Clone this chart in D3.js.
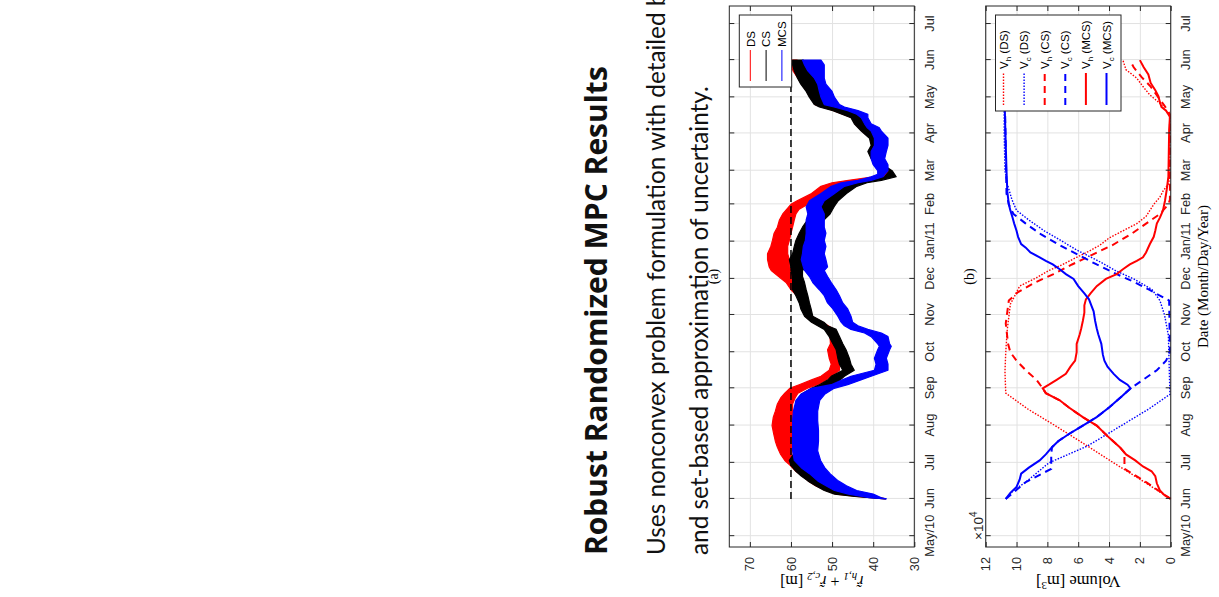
<!DOCTYPE html>
<html><head><meta charset="utf-8">
<script src="https://cdn.jsdelivr.net/npm/d3@7"></script>
<style>body{margin:0;background:#fff}svg{display:block}</style>
</head><body>
<script>
// ---------------- DATA ----------------
const titleText = "Robust Randomized MPC Results";
const subLine1 = "Uses nonconvex problem formulation with detailed bu";
const subLine2 = "and set-based approximation of uncertainty.";

const monthTicks = ["2010-05-01","2010-06-01","2010-07-01","2010-08-01","2010-09-01","2010-10-01","2010-11-01","2010-12-01","2011-01-01","2011-02-01","2011-03-01","2011-04-01","2011-05-01","2011-06-01","2011-07-01"];
const monthLabels = ["May/10","Jun","Jul","Aug","Sep","Oct","Nov","Dec","Jan/11","Feb","Mar","Apr","May","Jun","Jul"];
const yTicksA = [30,40,50,60,70];
const yTicksB = [0,2,4,6,8,10,12];
const refLevel = 60;
const refStart = "2010-06-01", refEnd = "2011-06-01";

// plot (a): band envelopes [m]
const dsDates = ["2010-06-01","2010-06-03","2010-06-05","2010-06-08","2010-06-12","2010-06-16","2010-06-20","2010-06-24","2010-06-29","2010-07-03","2010-07-08","2010-07-14","2010-07-19","2010-07-25","2010-08-01","2010-08-08","2010-08-13","2010-08-19","2010-08-24","2010-08-28","2010-09-01","2010-09-04","2010-09-08","2010-09-11","2010-09-16","2010-09-21","2010-09-26","2010-10-03","2010-10-08","2010-10-14","2010-10-20","2010-10-26","2010-10-31","2010-11-06","2010-11-11","2010-11-17","2010-11-22","2010-11-28","2010-12-03","2010-12-08","2010-12-11","2010-12-17","2010-12-22","2010-12-28","2011-01-02","2011-01-08","2011-01-13","2011-01-19","2011-01-24","2011-01-28","2011-02-01","2011-02-04","2011-02-10","2011-02-16","2011-02-19","2011-02-21","2011-02-24","2011-03-01","2011-03-06","2011-03-11","2011-03-17","2011-03-22","2011-03-28","2011-04-03","2011-04-09","2011-04-14","2011-04-20","2011-04-25","2011-05-01","2011-05-06","2011-05-12","2011-05-17","2011-05-23","2011-05-28","2011-06-01"];
const dsLo = [37,40,45,47.5,50,52.5,54.5,56,58,59.5,59.8,59.8,59.7,59.5,59.5,59.5,59.6,59.6,59,58.3,56,53.5,51.5,50.2,48.2,48.2,48.5,48.6,48.6,49,49.5,52.3,55,55.4,55.8,56.2,58.5,59.5,59.6,59.8,60.4,60.4,60.8,60.8,60.4,60,59.6,59.2,58.8,58,56,54,50.5,47.8,45.5,42,36.5,36,37.8,38.2,38,38.2,39.4,40.7,42.3,43.1,45.1,50.4,52.1,52.9,53.7,54.5,56.5,57.5,58.5];
const dsHi = [37,44,49,51.5,54,55.8,57.2,58.8,60.2,61.5,62.5,63.3,63.8,64.2,64.6,64.3,63.8,63.3,62.5,61.5,60.3,58,55,52.7,50.7,50.2,50.7,51.1,50.4,50.5,51.5,54.7,56.5,57.3,57.6,58.5,60,61.2,63,64.8,65.3,65.7,65.7,64.9,64.5,64.1,63.3,62.8,62,61,60,58.5,55,52.7,50,46,39.5,37,39,40.3,41,40.3,40.7,42.7,44.4,45.2,49.6,54.1,55.3,56.1,57.4,58.3,59.5,60,60];

const csDates = ["2010-06-01","2010-06-03","2010-06-05","2010-06-08","2010-06-12","2010-06-16","2010-06-20","2010-06-24","2010-06-29","2010-07-03","2010-07-08","2010-07-14","2010-07-25","2010-08-05","2010-08-13","2010-08-22","2010-08-27","2010-09-01","2010-09-04","2010-09-08","2010-09-11","2010-09-16","2010-09-21","2010-09-26","2010-10-03","2010-10-08","2010-10-14","2010-10-20","2010-10-23","2010-10-26","2010-10-31","2010-11-06","2010-11-11","2010-11-17","2010-11-22","2010-11-28","2010-12-03","2010-12-08","2010-12-11","2010-12-17","2010-12-22","2010-12-28","2011-01-02","2011-01-08","2011-01-13","2011-01-19","2011-01-24","2011-01-30","2011-02-04","2011-02-10","2011-02-16","2011-02-19","2011-02-21","2011-02-24","2011-03-01","2011-03-06","2011-03-11","2011-03-17","2011-03-22","2011-03-28","2011-04-03","2011-04-09","2011-04-14","2011-04-20","2011-04-23","2011-04-25","2011-05-01","2011-05-06","2011-05-12","2011-05-17","2011-05-23","2011-05-28","2011-06-01"];
const csLo = [37,40,44,47,49.5,51.5,53.5,55,57,57.5,56.5,56,55.5,55.5,55.5,55,54,51,50.2,48,47,44.6,45.4,45.8,46.6,47.4,48.2,49,51.1,52,54.7,55.1,55.5,55.9,56.3,56.7,57.2,57.2,56.3,56.7,56.7,56.3,55.5,54.7,53.5,52,50.5,49.5,48.5,46.5,44,41.5,38,34.4,35.4,37.6,38,37.6,38,39.2,40.5,42.1,42.9,44.9,49,50.2,51.9,52.7,53.5,54.3,55.5,56.3,57];
const csHi = [37,44.5,49.4,51.9,54,55.9,57.5,58.8,60,60.4,59.4,59.3,59.3,59.3,59.2,58.5,57.5,55,53.1,51,50.2,47.4,48.2,48.6,49,49.8,50.7,51.9,53.5,55,56.7,57.6,58,58.8,59.6,59.6,59.6,60,60,60.4,59.6,59.2,58.8,58,57.2,56,54.5,53,52,49.8,47.8,45,42,37.2,36,38.9,40.5,41.3,40.5,40.9,42.9,44.6,45.4,49.8,53.1,54.3,55.5,56.3,57.6,58.4,59.2,59.6,59.6];

const mcsDates = ["2010-06-01","2010-06-02","2010-06-05","2010-06-08","2010-06-12","2010-06-16","2010-06-22","2010-06-27","2010-07-03","2010-07-11","2010-07-19","2010-07-28","2010-08-05","2010-08-13","2010-08-22","2010-08-27","2010-09-01","2010-09-04","2010-09-08","2010-09-11","2010-09-16","2010-09-21","2010-09-26","2010-10-03","2010-10-06","2010-10-08","2010-10-14","2010-10-17","2010-10-20","2010-10-23","2010-10-26","2010-10-31","2010-11-06","2010-11-11","2010-11-17","2010-11-22","2010-11-28","2010-12-03","2010-12-08","2010-12-11","2010-12-17","2010-12-22","2010-12-28","2011-01-02","2011-01-08","2011-01-13","2011-01-19","2011-01-24","2011-01-30","2011-02-04","2011-02-10","2011-02-16","2011-02-19","2011-02-21","2011-02-24","2011-02-26","2011-03-01","2011-03-06","2011-03-11","2011-03-17","2011-03-22","2011-03-28","2011-04-03","2011-04-06","2011-04-09","2011-04-14","2011-04-17","2011-04-20","2011-04-23","2011-04-25","2011-05-01","2011-05-06","2011-05-12","2011-05-17","2011-05-23","2011-05-28","2011-06-01"];
const mcsLo = [36.8,38,40,44,46.5,48.5,50.5,51.8,52.8,53.5,53.3,53.3,53.5,53.5,53,51.8,49.5,46.2,43,40.5,36.4,36.4,36.8,36,35.6,36,36.4,38,41.3,43.7,45,45.4,46.2,47.4,48.2,49,50.2,51.1,51.9,51.1,51.5,51.9,51.5,51.9,51.5,51.9,51.9,51.9,52.7,51.9,49.4,47,43.7,40.5,37.6,37.2,36.4,36.4,37.2,36.8,36.4,36.4,38,38.6,40.5,41.3,41.3,43.7,47,48.2,49.4,50,51.5,51.9,51.9,51.9,52.7];
const mcsHi = [37,41,46,49.4,51.5,53.5,55.5,57.5,59.2,59.6,59.6,59.6,59.6,59.4,58.8,57.6,55,50.2,47.5,45.4,39.7,39.3,39.7,38.9,38.5,38.9,40.5,42.1,45.4,47,47.8,48.6,49.8,51.1,51.9,53.1,54.7,55.5,56.7,57,57.5,57.2,57,56.5,56.3,56.3,56.3,55.9,56.3,55.5,52.7,50.2,47.8,43.7,40.5,38.9,38.9,40,40.5,40.5,39.7,39.7,40.5,41.5,42.1,42.9,44,46.2,49.5,51.9,52.7,53.1,53.5,54.3,55.9,56.7,57.2];

// plot (b): volumes [x 10^4 m^3]
const vhDSDates = ["2010-06-01","2010-06-15","2010-07-01","2010-07-15","2010-08-01","2010-08-15","2010-08-28","2010-09-15","2010-10-01","2010-10-20","2010-11-10","2010-11-16","2010-11-25","2010-12-02","2010-12-08","2010-12-13","2010-12-19","2010-12-24","2010-12-29","2011-01-04","2011-01-10","2011-01-16","2011-01-22","2011-01-27","2011-02-01","2011-02-07","2011-02-12","2011-02-18","2011-02-24","2011-04-15","2011-04-20","2011-04-26","2011-05-03","2011-05-10","2011-05-17","2011-05-24","2011-06-01"];
const vhDSVals = [0,1.7,3.7,5.4,7.5,9.3,10.7,10.75,10.7,10.6,10.4,10.15,9.8,8.7,7.9,7.0,6.1,5.3,4.6,4.0,3.1,2.2,1.6,1.35,1.1,0.7,0.5,0.15,0.05,0.05,0.3,0.7,1.35,1.8,2.2,2.9,3.1];
const vcDSDates = ["2010-06-01","2010-06-08","2010-06-15","2010-07-01","2010-07-15","2010-08-01","2010-08-15","2010-08-27","2010-10-15","2010-11-01","2010-11-13","2010-11-22","2010-12-01","2010-12-08","2010-12-16","2010-12-25","2011-01-01","2011-01-10","2011-01-19","2011-01-27","2011-02-05","2011-02-18","2011-03-01","2011-04-01","2011-06-01"];
const vcDSVals = [10.7,10.2,9.4,7.9,5.4,3.2,1.4,0.05,0.15,0.4,0.7,1.2,2.4,3.6,4.7,6.1,7.0,8.2,9.2,10.0,10.3,10.6,10.75,10.8,10.8];
const vhCSDates = ["2010-06-01","2010-06-15","2010-06-26","2010-07-06","2010-07-08","2010-07-14","2010-07-22","2010-08-01","2010-08-08","2010-08-16","2010-08-22","2010-08-28","2010-09-01","2010-09-08","2010-09-16","2010-09-24","2010-10-01","2010-10-08","2010-10-25","2010-11-13","2010-11-20","2010-11-28","2010-12-05","2010-12-13","2010-12-21","2010-12-29","2011-01-07","2011-01-16","2011-01-24","2011-02-01","2011-02-05","2011-04-17","2011-04-24","2011-05-01","2011-05-10","2011-05-18","2011-05-26","2011-06-01"];
const vhCSVals = [0,1.6,3.0,3.0,2.9,3.3,4.0,4.8,5.7,6.6,7.2,8.1,8.3,8.7,9.4,10.0,10.4,10.55,10.7,10.5,9.9,8.8,7.6,6.4,5.1,3.8,2.6,1.6,0.7,0.15,0.05,0.05,0.4,0.8,1.3,1.9,2.4,2.65];
const vcCSDates = ["2010-06-01","2010-06-15","2010-06-26","2010-07-08","2010-07-14","2010-07-19","2010-07-25","2010-08-01","2010-08-08","2010-08-16","2010-08-25","2010-09-01","2010-09-08","2010-09-16","2010-09-24","2010-10-01","2010-11-13","2010-11-22","2010-11-28","2010-12-05","2010-12-13","2010-12-21","2010-12-29","2011-01-07","2011-01-16","2011-01-24","2011-02-01","2011-02-10","2011-06-01"];
const vcCSVals = [10.7,9.4,7.75,7.75,7.7,7.3,6.6,5.7,4.8,4.0,3.2,2.6,1.8,0.9,0.3,0.05,0.1,1.4,2.3,3.5,4.8,6.0,7.2,8.4,9.4,10.2,10.5,10.65,10.8];
const vhMCSDates = ["2010-06-01","2010-06-04","2010-06-08","2010-06-14","2010-06-20","2010-06-24","2010-06-28","2010-07-03","2010-07-08","2010-07-14","2010-07-22","2010-08-01","2010-08-08","2010-08-16","2010-08-22","2010-08-28","2010-09-01","2010-09-04","2010-09-08","2010-09-13","2010-09-19","2010-09-24","2010-10-01","2010-10-08","2010-10-16","2010-10-21","2010-10-27","2010-11-03","2010-11-09","2010-11-14","2010-11-19","2010-11-25","2010-12-01","2010-12-05","2010-12-09","2010-12-13","2010-12-16","2010-12-19","2010-12-23","2010-12-30","2011-01-05","2011-01-10","2011-01-16","2011-01-21","2011-01-27","2011-02-04","2011-02-13","2011-02-24","2011-04-04","2011-04-15","2011-04-20","2011-04-23","2011-04-27","2011-05-02","2011-05-07","2011-05-13","2011-05-20","2011-05-26","2011-06-01"];
const vhMCSVals = [0,0.4,0.7,0.9,1.0,1.24,1.8,2.3,2.9,3.3,4.0,4.8,5.7,6.6,7.2,8.1,8.3,7.9,7.4,6.8,6.5,6.2,6.1,6.1,5.9,5.8,5.7,5.6,5.6,5.5,5.2,4.8,4.2,3.5,3.1,2.65,2.2,1.8,1.6,1.35,1.1,1.0,0.9,0.7,0.5,0.37,0.26,0.15,0.1,0.05,0.3,0.6,0.7,0.8,1.0,1.3,1.45,1.75,2.0];
const vcMCSDates = ["2010-06-01","2010-06-06","2010-06-11","2010-06-17","2010-06-22","2010-06-27","2010-07-03","2010-07-08","2010-07-14","2010-07-19","2010-07-25","2010-08-01","2010-08-08","2010-08-16","2010-08-25","2010-09-01","2010-09-04","2010-09-08","2010-09-13","2010-09-19","2010-09-24","2010-09-29","2010-10-08","2010-10-16","2010-10-21","2010-10-27","2010-11-04","2010-11-09","2010-11-14","2010-11-19","2010-11-25","2010-12-01","2010-12-05","2010-12-09","2010-12-13","2010-12-16","2010-12-19","2010-12-23","2010-12-27","2010-12-30","2011-01-05","2011-01-10","2011-01-16","2011-01-21","2011-01-27","2011-02-01","2011-02-12","2011-03-01","2011-04-15","2011-06-01"];
const vcMCSVals = [10.7,10.4,10.0,9.8,9.7,9.2,8.5,8.1,7.7,7.3,6.6,5.7,4.8,4.0,3.2,2.6,2.8,3.3,3.7,4.1,4.3,4.4,4.5,4.7,4.8,4.9,5.0,5.15,5.3,5.6,6.0,6.3,6.8,7.2,7.65,8.1,8.5,9.1,9.4,9.7,9.9,10.0,10.15,10.26,10.4,10.5,10.6,10.65,10.75,10.8];

// ---------------- DRAW ----------------
const W = 1219, H = 597;
const parse = d3.timeParse("%Y-%m-%d");
const svg = d3.select("body").append("svg").attr("width", W).attr("height", H);
// the slide is rotated 90 deg counter-clockwise; draw in the upright frame (597 wide, 1219 tall)
const g = svg.append("g").attr("transform", `translate(0,${H}) rotate(-90)`);

const SANS = "'Liberation Sans', Arial, sans-serif";
const SERIF = "'Liberation Serif', 'Times New Roman', serif";
const TITLEF = "'Open Sans', 'Noto Sans', sans-serif";
const SUBF = "Lato, 'Open Sans', sans-serif";
const AX = "#262626", GRID = "#e2e2e2";

function fit(sel, target) {
  const L = sel.node().getComputedTextLength();
  const fs = parseFloat(sel.attr("font-size"));
  sel.attr("font-size", fs * target / L);
  return fs * target / L;
}

// Title and text
const t = g.append("text").attr("x", 42).attr("y", 607).attr("font-family", TITLEF)
  .attr("font-weight", 700).attr("font-size", 28).attr("fill", "#111").text(titleText);
fit(t, 489);
const s2 = g.append("text").attr("x", 42).attr("y", 708).attr("font-family", SUBF)
  .attr("font-weight", 400).attr("font-size", 22).attr("fill", "#111").text(subLine2);
const fsSub = fit(s2, 469);
g.append("text").attr("x", 42).attr("y", 665).attr("font-family", SUBF)
  .attr("font-weight", 400).attr("font-size", fsSub).attr("fill", "#111").text(subLine1);

// scales
const uL = 50, uR = 591;
const aTop = 729.3, aBot = 914.3, bTop = 985.7, bBot = 1170.7;
const x = d3.scaleTime().domain([parse("2010-04-22"), parse("2011-07-16")]).range([uL, uR]);
const ya = d3.scaleLinear().domain([30, 75]).range([aBot, aTop]);
const yb = d3.scaleLinear().domain([0, 12]).range([bBot, bTop]);
const tickDates = monthTicks.map(parse);
const lblMap = new Map(tickDates.map((d, i) => [+d, monthLabels[i]]));

function gridAndFrame(gp, y, yTicks, top, bot) {
  gp.append("g").attr("transform", `translate(0,${bot})`)
    .call(d3.axisBottom(x).tickValues(tickDates).tickSize(-(bot - top)).tickFormat(""))
    .call(a => { a.select(".domain").remove(); a.selectAll("line").attr("stroke", GRID); });
  gp.append("g").attr("transform", `translate(${uL},0)`)
    .call(d3.axisLeft(y).tickValues(yTicks).tickSize(-(uR - uL)).tickFormat(""))
    .call(a => { a.select(".domain").remove(); a.selectAll("line").attr("stroke", GRID); });
}
function axesBox(gp, y, yTicks, top, bot, yFmt) {
  const xb = gp.append("g").attr("transform", `translate(0,${bot})`)
    .call(d3.axisBottom(x).tickValues(tickDates).tickSize(-5).tickSizeOuter(0).tickPadding(10.5)
      .tickFormat(d => lblMap.get(+d)));
  const xt = gp.append("g").attr("transform", `translate(0,${top})`)
    .call(d3.axisTop(x).tickValues(tickDates).tickSize(-5).tickSizeOuter(0).tickFormat(""));
  const yl = gp.append("g").attr("transform", `translate(${uL},0)`)
    .call(d3.axisLeft(y).tickValues(yTicks).tickSize(-5).tickSizeOuter(0).tickPadding(10).tickFormat(yFmt));
  const yr = gp.append("g").attr("transform", `translate(${uR},0)`)
    .call(d3.axisRight(y).tickValues(yTicks).tickSize(-5).tickSizeOuter(0).tickFormat(""));
  [xb, xt, yl, yr].forEach(a => {
    a.select(".domain").remove();
    a.selectAll("line").attr("stroke", AX);
    a.selectAll("text").attr("font-family", SANS).attr("font-size", 12.8).attr("fill", AX);
  });
  gp.append("rect").attr("x", uL).attr("y", top).attr("width", uR - uL).attr("height", bot - top)
    .attr("fill", "none").attr("stroke", AX).attr("stroke-width", 1);
}

// ---- plot (a)
const ga = g.append("g");
gridAndFrame(ga, ya, yTicksA, aTop, aBot);
const bands = [
  { name: "DS", color: "#ff0000", dates: dsDates, lo: dsLo, hi: dsHi },
  { name: "CS", color: "#000000", dates: csDates, lo: csLo, hi: csHi },
  { name: "MCS", color: "#0000ff", dates: mcsDates, lo: mcsLo, hi: mcsHi }
];
const area = d3.area().x(d => x(d.date)).y0(d => ya(d.lo)).y1(d => ya(d.hi));
bands.forEach(s => {
  const rows = s.dates.map((d, i) => ({ date: parse(d), lo: s.lo[i], hi: s.hi[i] }));
  ga.append("path").datum(rows).attr("d", area).attr("fill", s.color)
    .attr("stroke", s.color).attr("stroke-width", 1.2).attr("stroke-linejoin", "round");
});
ga.append("line").attr("x1", x(parse(refStart))).attr("x2", x(parse(refEnd)))
  .attr("y1", ya(refLevel)).attr("y2", ya(refLevel))
  .attr("stroke", "#000").attr("stroke-width", 1.5).attr("stroke-dasharray", "7,4");
axesBox(ga, ya, yTicksA, aTop, aBot, d3.format("d"));

// legend (a)
const la = ga.append("g");
la.append("rect").attr("x", 510).attr("y", 739.3).attr("width", 72).attr("height", 52.4)
  .attr("fill", "#fff").attr("stroke", AX).attr("stroke-width", 1);
bands.forEach((s, i) => {
  const vy = 750.3 + i * 15.8;
  la.append("line").attr("x1", 516).attr("x2", 547).attr("y1", vy).attr("y2", vy)
    .attr("stroke", s.color).attr("stroke-width", 1);
  la.append("text").attr("x", 550).attr("y", vy + 4.2).attr("font-family", SANS)
    .attr("font-size", 11.5).attr("fill", "#000").text(s.name);
});

// labels (a)
g.append("text").attr("x", 320.5).attr("y", 718).attr("text-anchor", "middle")
  .attr("font-family", SERIF).attr("font-size", 14).attr("fill", "#000").text("(a)");
const ylA = g.append("text").attr("transform", `translate(21,${(aTop + aBot) / 2}) rotate(-90)`)
  .attr("text-anchor", "middle").attr("font-family", SERIF).attr("font-size", 16).attr("fill", "#000");
ylA.append("tspan").attr("font-style", "italic").text("r\u0303");
ylA.append("tspan").attr("font-style", "italic").attr("font-size", 11).attr("dy", 3.5).text("h,1");
ylA.append("tspan").attr("dy", -3.5).text(" + ");
ylA.append("tspan").attr("font-style", "italic").text("r\u0303");
ylA.append("tspan").attr("font-style", "italic").attr("font-size", 11).attr("dy", 3.5).text("c,2");
ylA.append("tspan").attr("dy", -3.5).text(" [m]");

// ---- plot (b)
const gb = g.append("g");
gridAndFrame(gb, yb, yTicksB, bTop, bBot);
const lines = [
  { key: "h", tag: "DS", color: "#ff0000", dash: "1.5,1.5", w: 1.4, dates: vhDSDates, vals: vhDSVals },
  { key: "c", tag: "DS", color: "#0000ff", dash: "1.5,1.5", w: 1.4, dates: vcDSDates, vals: vcDSVals },
  { key: "h", tag: "CS", color: "#ff0000", dash: "7,5", w: 2, dates: vhCSDates, vals: vhCSVals },
  { key: "c", tag: "CS", color: "#0000ff", dash: "7,5", w: 2, dates: vcCSDates, vals: vcCSVals },
  { key: "h", tag: "MCS", color: "#ff0000", dash: null, w: 2, dates: vhMCSDates, vals: vhMCSVals },
  { key: "c", tag: "MCS", color: "#0000ff", dash: null, w: 2, dates: vcMCSDates, vals: vcMCSVals }
];
const line = d3.line().x(d => x(d.date)).y(d => yb(d.v));
lines.forEach(s => {
  const rows = s.dates.map((d, i) => ({ date: parse(d), v: s.vals[i] }));
  gb.append("path").datum(rows).attr("d", line).attr("fill", "none")
    .attr("stroke", s.color).attr("stroke-width", s.w).attr("stroke-dasharray", s.dash);
});
axesBox(gb, yb, yTicksB, bTop, bBot, d3.format("d"));

// exponent label
const ex = g.append("text").attr("x", 57).attr("y", 983).attr("font-family", SANS)
  .attr("font-size", 13.5).attr("fill", AX);
ex.append("tspan").text("\u00d710");
ex.append("tspan").attr("dy", -6).attr("font-size", 10).text("4");

// legend (b)
const lb = gb.append("g");
lb.append("rect").attr("x", 486).attr("y", 995.5).attr("width", 96).attr("height", 125.5)
  .attr("fill", "#fff").attr("stroke", AX).attr("stroke-width", 1);
lines.forEach((s, i) => {
  const vy = 1003.5 + i * 20.6;
  lb.append("line").attr("x1", 492).attr("x2", 524).attr("y1", vy).attr("y2", vy)
    .attr("stroke", s.color).attr("stroke-width", s.w).attr("stroke-dasharray", s.dash);
  const tx = lb.append("text").attr("x", 528).attr("y", vy + 4).attr("font-family", SANS)
    .attr("font-size", 11.5).attr("fill", "#000");
  tx.append("tspan").text("V");
  tx.append("tspan").attr("dy", 3).attr("font-size", 8).text(s.key);
  tx.append("tspan").attr("dy", -3).text(" (" + s.tag + ")");
});

// labels (b)
g.append("text").attr("x", 320.5).attr("y", 974).attr("text-anchor", "middle")
  .attr("font-family", SERIF).attr("font-size", 14).attr("fill", "#000").text("(b)");
const ylB = g.append("text").attr("transform", `translate(21,${(bTop + bBot) / 2}) rotate(-90)`)
  .attr("text-anchor", "middle").attr("font-family", SERIF).attr("font-size", 16.5).attr("fill", "#000");
ylB.append("tspan").text("Volume [m");
ylB.append("tspan").attr("dy", -6).attr("font-size", 11).text("3");
ylB.append("tspan").attr("dy", 6).text("]");
g.append("text").attr("x", 320.5).attr("y", 1208).attr("text-anchor", "middle")
  .attr("font-family", SERIF).attr("font-size", 15).attr("fill", "#000").text("Date (Month/Day/Year)");
</script>
</body></html>
